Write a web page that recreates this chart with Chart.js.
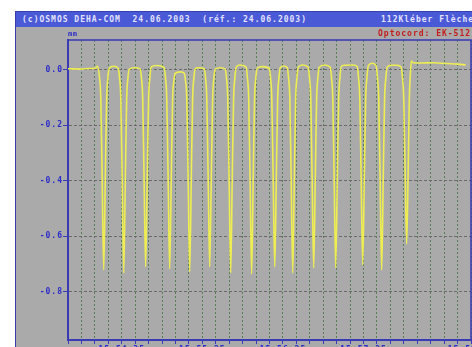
<!DOCTYPE html>
<html>
<head>
<meta charset="utf-8">
<script src="https://cdn.jsdelivr.net/npm/chart.js@4"></script>
<style>
  body { margin: 0; background: #fff; overflow: hidden; width: 472px; height: 347px; }
  #panel { position: absolute; left: 15px; top: 11px; width: 470px; height: 350px; background: #aaaaaa; border-left: 1px solid #3a3aa8; }
  #bar { position: absolute; left: 0; top: 0; width: 470px; height: 15px; background: #4a59d6; border-top: 1px solid #3440b0;
         color: #e2e2ff; font: bold 8px 'DejaVu Sans Mono'; letter-spacing: 1px; line-height: 15px; white-space: pre; }
  .txt { position: absolute; font: bold 8px 'DejaVu Sans Mono'; letter-spacing: 1px; white-space: pre; }
  canvas { position: absolute; left: 0; top: 0; }
</style>
</head>
<body>
<div id="panel">
  <div id="bar"><span style="position:absolute;left:6px">(c)OSMOS DEHA-COM  24.06.2003  (réf.: 24.06.2003)</span><span style="position:absolute;left:365px">112Kléber Flèche</span></div>
</div>
<canvas id="myChart" width="472" height="380"></canvas>
<div class="txt" style="left:68px;top:30px;color:#2c2cc8;font-size:7px;letter-spacing:0.5px">mm</div>
<div class="txt" style="left:378px;top:29px;color:#c41c1c">Optocord: EK-512</div>
<script>
'use strict';
// time in seconds, depth in mm
let timeSec = [0, 8.7, 16.2, 20.4, 21.9,
  23.5, 24.4, 25.4, 26.6, 27.8, 28.8, 29.7, 30.7, 33.9, 37.4,
  38.4, 39.3, 40.3, 41.5, 42.7, 43.7, 44.6, 45.6, 49.7, 53.7,
  54.7, 55.6, 56.6, 57.8, 59.0, 60.0, 60.9, 61.9, 66.0, 71.6,
  72.6, 73.5, 74.5, 75.7, 76.9, 77.9, 78.8, 79.8, 83.9, 86.5,
  87.5, 88.4, 89.4, 90.6, 91.8, 92.8, 93.7, 94.7, 96.9, 101.4,
  102.4, 103.3, 104.3, 105.5, 106.7, 107.7, 108.6, 109.6, 113.5, 117.0,
  118.0, 118.9, 119.9, 121.1, 122.3, 123.3, 124.2, 125.2, 127.8, 132.6,
  133.6, 134.5, 135.5, 136.7, 137.9, 138.9, 139.8, 140.8, 144.9, 149.8,
  150.8, 151.7, 152.7, 153.9, 155.1, 156.1, 157.0, 158.0, 160.6, 163.2,
  164.2, 165.1, 166.1, 167.3, 168.5, 169.5, 170.4, 171.4, 174.7, 178.8,
  179.8, 180.7, 181.7, 182.9, 184.1, 185.1, 186.0, 187.0, 191.1, 195.2,
  196.2, 197.1, 198.1, 199.3, 200.5, 201.5, 202.4, 203.4, 206.0, 212.0, 215.3,
  216.3, 217.2, 218.2, 219.4, 220.6, 221.6, 222.5, 223.5, 226.4, 229.4,
  230.4, 231.3, 232.3, 233.5, 234.7, 235.7, 236.6, 237.6, 240.5, 245.0, 248.0,
  249.0, 249.9, 250.9, 252.1, 253.3, 254.1, 254.8, 255.6, 257.0, 263.0, 272.0, 282.0, 290.0, 296.1];
let depthMm = [0.004, 0.003, 0.005, 0.006, 0.013,
  -0.03, -0.1, -0.38, -0.722, -0.38, -0.1, -0.03, 0.006, 0.013, 0.006,
  -0.03, -0.1, -0.38, -0.733, -0.38, -0.1, -0.03, 0.003, 0.008, 0.004,
  -0.03, -0.1, -0.38, -0.711, -0.38, -0.1, -0.03, 0.01, 0.016, 0.008,
  -0.03, -0.1, -0.38, -0.718, -0.38, -0.1, -0.04, -0.012, -0.007, -0.012,
  -0.04, -0.1, -0.38, -0.729, -0.38, -0.1, -0.03, 0.004, 0.008, 0.004,
  -0.03, -0.1, -0.38, -0.711, -0.38, -0.1, -0.03, 0.003, 0.008, 0.003,
  -0.03, -0.1, -0.38, -0.733, -0.38, -0.1, -0.03, 0.01, 0.018, 0.01,
  -0.03, -0.1, -0.38, -0.736, -0.38, -0.1, -0.03, 0.006, 0.012, 0.006,
  -0.03, -0.1, -0.38, -0.711, -0.38, -0.1, -0.03, 0.008, 0.014, 0.008,
  -0.03, -0.1, -0.38, -0.733, -0.38, -0.1, -0.03, 0.01, 0.018, 0.01,
  -0.03, -0.1, -0.38, -0.715, -0.38, -0.1, -0.03, 0.01, 0.018, 0.01,
  -0.03, -0.1, -0.38, -0.715, -0.38, -0.1, -0.03, 0.012, 0.017, 0.018, 0.012,
  -0.03, -0.1, -0.38, -0.704, -0.38, -0.1, -0.03, 0.015, 0.024, 0.015,
  -0.03, -0.1, -0.38, -0.722, -0.38, -0.1, -0.03, 0.01, 0.017, 0.017, 0.01,
  -0.03, -0.1, -0.34, -0.628, -0.34, -0.1, -0.02, 0.032, 0.026, 0.025, 0.026, 0.023, 0.021, 0.018];

let yTicks = [0, -0.2, -0.4, -0.6, -0.8];
let yTickLabels = ['0.0', '-0.2', '-0.4', '-0.6', '-0.8'];
let xTickPos = [40, 100, 160, 220, 300];
let xTickLabels = ['15:54:35', '15:55:35', '15:56:35', '15:57:35', '15:58:55'];

let blue = '#3a3ab4';
let points = [];
for (let i = 0; i < timeSec.length; i++) {
  points.push({x: timeSec[i], y: depthMm[i]});
}

let spacing = {
  id: 'spacing',
  beforeDraw(chart) { chart.ctx.letterSpacing = '1px'; }
};
let frame = {
  id: 'frame',
  afterDraw(chart) {
    let a = chart.chartArea;
    let ctx = chart.ctx;
    ctx.save();
    ctx.strokeStyle = blue;
    ctx.lineWidth = 1.5;
    ctx.beginPath();
    ctx.moveTo(a.left, a.top);
    ctx.lineTo(a.right, a.top);
    ctx.lineTo(a.right, a.bottom);
    ctx.stroke();
    ctx.restore();
  }
};

let ctx = document.getElementById('myChart').getContext('2d');
let myChart = new Chart(ctx, {
  type: 'line',
  data: {
    datasets: [{
      data: points,
      borderColor: '#eeee52',
      borderWidth: 1.6,
      pointRadius: 0,
      fill: false,
      cubicInterpolationMode: 'monotone'
    }]
  },
  plugins: [spacing, frame],
  options: {
    responsive: false,
    animation: false,
    devicePixelRatio: 1,
    layout: { padding: { top: 40, right: 1, left: 0, bottom: 0 } },
    plugins: { legend: { display: false }, tooltip: { enabled: false } },
    scales: {
      x: {
        type: 'linear',
        min: 0,
        max: 300,
        afterBuildTicks: function (scale) {
          let t = [];
          for (let v = 0; v <= 300; v += 10) t.push({value: v});
          scale.ticks = t;
        },
        afterFit: function (scale) {
          scale.height = 40;
          scale.paddingLeft = 0;
          scale.paddingRight = 0;
        },
        ticks: {
          autoSkip: false,
          maxRotation: 0,
          padding: 1,
          color: '#2c2cc8',
          font: { family: 'DejaVu Sans Mono', size: 8, weight: 'bold' },
          callback: function (value) {
            let k = xTickPos.indexOf(value);
            return k >= 0 ? xTickLabels[k] : '';
          }
        },
        grid: { color: 'rgba(72,120,72,0.85)', tickColor: blue, tickLength: 4, lineWidth: 1 },
        border: { color: blue, width: 2, dash: [2, 2] }
      },
      y: {
        min: -0.975,
        max: 0.108,
        afterBuildTicks: function (scale) {
          scale.ticks = yTicks.map(v => ({value: v}));
        },
        afterFit: function (scale) {
          scale.width = 68;
          scale.paddingTop = 0;
          scale.paddingBottom = 0;
        },
        ticks: {
          padding: 0,
          color: '#2c2cc8',
          font: { family: 'DejaVu Sans Mono', size: 8, weight: 'bold' },
          callback: function (value, index) {
            return yTickLabels[index];
          }
        },
        grid: { color: '#6a6a6a', tickColor: blue, tickLength: 5, lineWidth: 1 },
        border: { color: blue, width: 2, dash: [3, 2] }
      }
    }
  }
});
</script>
</body>
</html>
